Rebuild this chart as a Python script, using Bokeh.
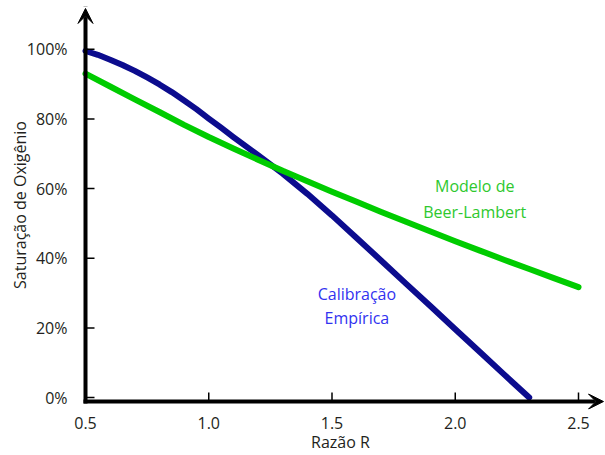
from bokeh.plotting import figure
from bokeh.models import (Range1d, FixedTicker, PrintfTickFormatter, NumeralTickFormatter,
                          Arrow, VeeHead, ColumnDataSource)
from bokeh.core.properties import value
from bokeh.embed import file_html
from bokeh.resources import INLINE

# Data
r_emp = [0.5, 0.55, 0.6, 0.65, 0.7, 0.75, 0.8, 0.85, 0.9, 0.95, 1.0, 1.05, 1.1, 1.2, 1.3, 1.4,
         1.5, 1.6, 1.7, 1.8, 1.9, 2.0, 2.1, 2.2, 2.3]
sat_emp = [99.5, 98.4, 97.0, 95.5, 93.8, 91.9, 89.9, 87.7, 85.3, 82.8, 80.1, 77.5, 74.8, 69.6, 64.3, 58.5,
           52.3, 45.8, 39.3, 32.7, 26.2, 19.6, 13.1, 6.5, 0.0]

r_bl = [0.5, 0.6, 0.7, 0.8, 0.9, 1.0, 1.1, 1.2, 1.3, 1.4, 1.5, 1.6, 1.7, 1.8, 1.9, 2.0, 2.1, 2.2, 2.3, 2.4, 2.5]
sat_bl = [93.0, 89.3, 85.6, 82.0, 78.3, 74.8, 71.5, 68.3, 65.1, 62.1, 59.1, 56.2, 53.3, 50.5, 47.7, 44.9,
          42.2, 39.5, 36.9, 34.3, 31.7]

x_ticks = [0.5, 1.0, 1.5, 2.0, 2.5]
y_ticks = [0, 20, 40, 60, 80, 100]

label_text = ["Modelo de", "Beer-Lambert", "Calibração", "Empírica"]
label_x = [2.079, 2.079, 1.601, 1.601]
label_y = [60.6, 53.4, 29.7, 22.9]
label_color = ["#2ec82e", "#2ec82e", "#3232f0", "#3232f0"]

FONT = "Open Sans"
BLUE = "#0c0c8e"
GREEN = "#00cc00"
TXT = "#231f20"

W, H = 605, 455
PX_X = 246.5   # pixels per unit of R
PX_Y = 3.5     # pixels per percent
X_AXIS_AT = 0.5          # y axis drawn at R = 0.5
Y_AXIS_AT = -4 / PX_Y    # x axis drawn just under 0 %
X0 = X_AXIS_AT - 10 / PX_X
X1 = X_AXIS_AT + 520 / PX_X
X_TIP = X_AXIS_AT + 518 / PX_X
Y0 = -12 / PX_Y
Y1 = 399 / PX_Y
Y_TIP = 391 / PX_Y

p = figure(width=W, height=H, output_backend="svg", toolbar_location=None,
           x_range=Range1d(X0, X1), y_range=Range1d(Y0, Y1),
           min_border_left=75, min_border_bottom=44, min_border_top=0, min_border_right=0,
           outline_line_color=None, background_fill_color="white", border_fill_color="white")
p.grid.visible = False

p.line(r_emp, sat_emp, line_color=BLUE, line_width=6, line_cap="round", line_join="round")
p.line(r_bl, sat_bl, line_color=GREEN, line_width=6, line_cap="round", line_join="round")

src = ColumnDataSource(dict(x=label_x, y=label_y, t=label_text, c=label_color))
p.text(x="x", y="y", text="t", text_color="c", source=src, text_align="center",
       text_baseline="middle", text_font=value(FONT), text_font_size="16px")

# inward tick marks at the axis lines
p.segment(x0=x_ticks, y0=[Y_AXIS_AT] * len(x_ticks), x1=x_ticks, y1=[Y_AXIS_AT + 9 / PX_Y] * len(x_ticks),
          line_color="black", line_width=1.5)
p.segment(x0=[X_AXIS_AT] * len(y_ticks), y0=y_ticks, x1=[X_AXIS_AT + 9 / PX_X] * len(y_ticks), y1=y_ticks,
          line_color="black", line_width=1.5)

for ax in (p.xaxis[0], p.yaxis[0]):
    ax.axis_line_color = None
    ax.major_tick_line_color = None
    ax.major_tick_in = 0
    ax.major_tick_out = 0
    ax.minor_tick_line_color = None
    ax.major_label_text_font = FONT
    ax.major_label_text_font_size = "16px"
    ax.major_label_text_color = TXT
    ax.axis_label_text_font = FONT
    ax.axis_label_text_font_size = "16px"
    ax.axis_label_text_font_style = "normal"
    ax.axis_label_text_color = TXT

p.xaxis.ticker = FixedTicker(ticks=x_ticks)
p.xaxis.formatter = NumeralTickFormatter(format="0.0")
p.xaxis.major_label_standoff = 7
p.xaxis.axis_label = "Razão R"
p.xaxis.axis_label_standoff = -1

p.yaxis.ticker = FixedTicker(ticks=y_ticks)
p.yaxis.formatter = PrintfTickFormatter(format="%d%%")
p.yaxis.major_label_standoff = 8
p.yaxis.axis_label = "Saturação de Oxigênio"
p.yaxis.axis_label_standoff = -7

# axis lines with arrow heads
p.add_layout(Arrow(end=VeeHead(size=15, fill_color="black", line_color="black"),
                   x_start=X_AXIS_AT, y_start=Y_AXIS_AT, x_end=X_AXIS_AT, y_end=Y_TIP,
                   line_color="black", line_width=4, line_cap="square"))
p.add_layout(Arrow(end=VeeHead(size=15, fill_color="black", line_color="black"),
                   x_start=X_AXIS_AT, y_start=Y_AXIS_AT, x_end=X_TIP, y_end=Y_AXIS_AT,
                   line_color="black", line_width=4, line_cap="square"))

open("out.html", "w").write(file_html(p, INLINE))
